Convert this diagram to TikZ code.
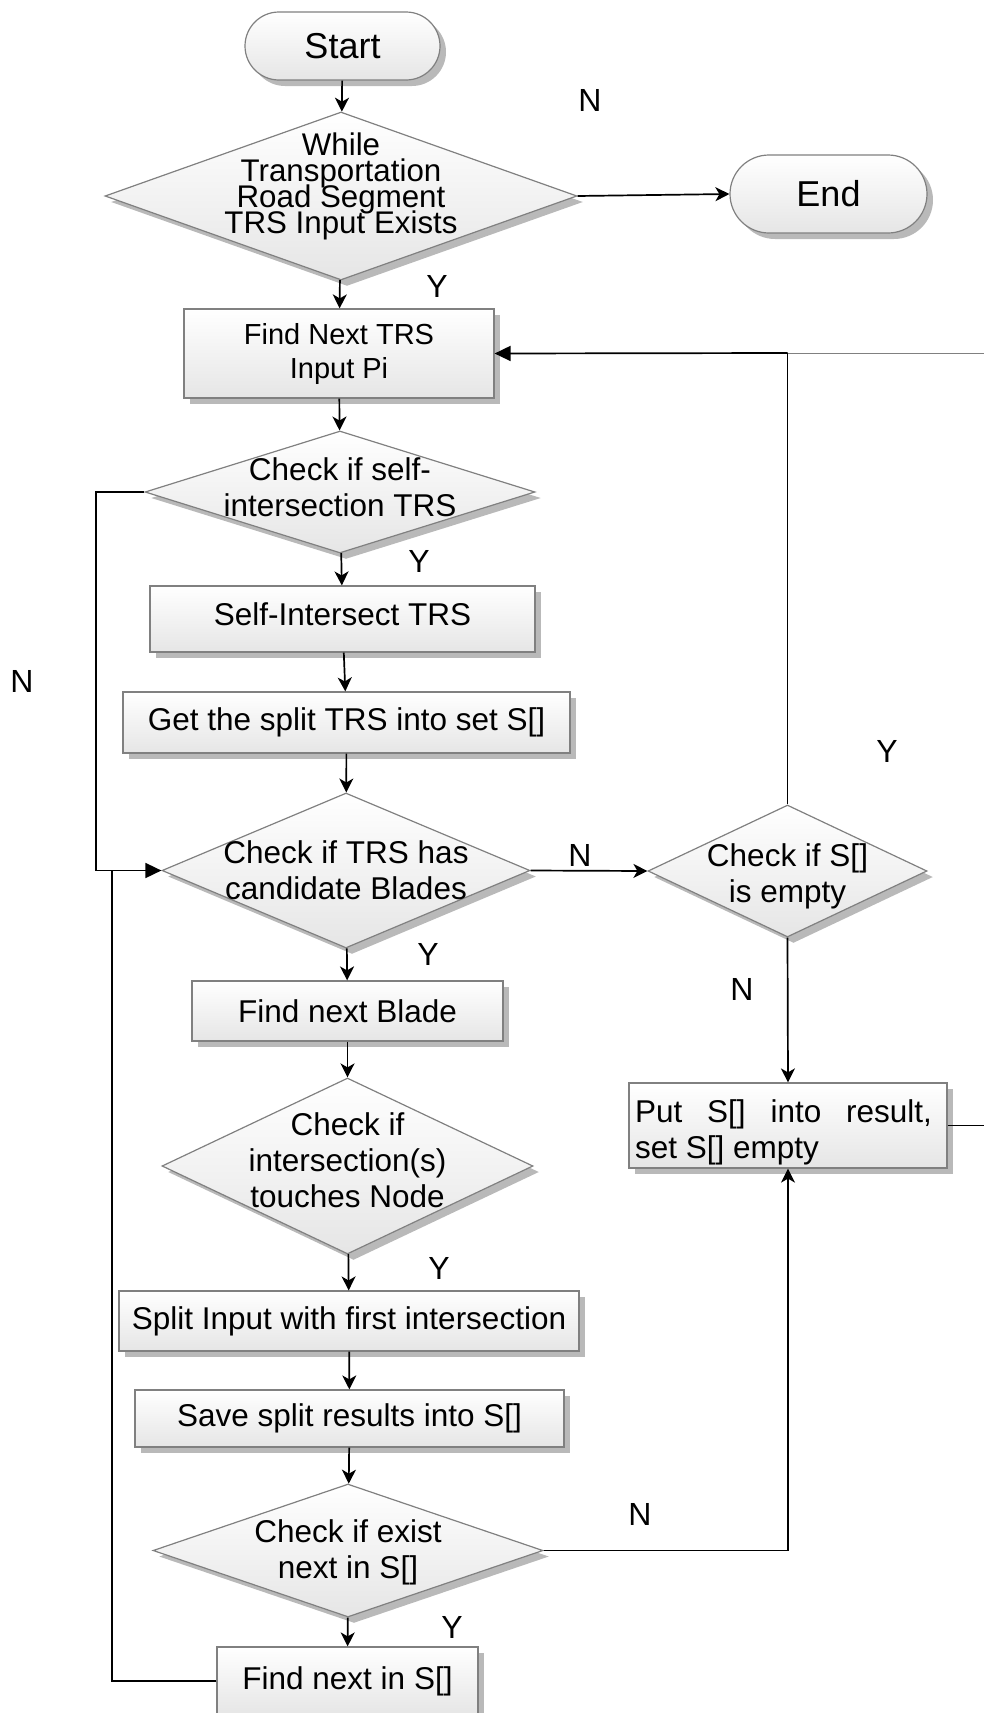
\documentclass[tikz,border=0pt]{standalone}
\usepackage{fontspec}
\setmainfont{Liberation Sans}
\usetikzlibrary{shapes.geometric,shapes.misc,arrows.meta,shadows}

\tikzset{
  box/.style={draw=gray, line width=1.2pt, top color=white, bottom color=gray!20,
    drop shadow={shadow xshift=6pt, shadow yshift=-6pt, fill=gray!55, opacity=1},
    inner sep=0pt, align=center, font=\fontsize{31.5}{36}\selectfont},
  terminal/.style={box, rounded rectangle, font=\fontsize{36}{36}\selectfont},
  decision/.style={box, diamond, inner sep=0pt},
  dtext/.style={inner sep=0pt, align=center, font=\fontsize{31.5}{36}\selectfont},
  lbl/.style={inner sep=0pt, font=\fontsize{32}{32}\selectfont},
  flow/.style={-{Stealth[length=14pt, width=14pt, inset=4pt]}, line width=1.7pt},
  flowtri/.style={-{Triangle[length=16pt, width=15pt]}, line width=1.7pt},
  link/.style={line width=1.7pt},
  thinlink/.style={line width=1.2pt},
  faint/.style={line width=1pt, gray}
}

\begin{document}
\begin{tikzpicture}[x=1pt, y=-1pt]
  \useasboundingbox (0,0) rectangle (984,1713);
  \clip (0,0) rectangle (984,1713);

  % start and main loop test
  \node[terminal, minimum width=195, minimum height=68] (start) at (342.5,46) {Start};
  \node[decision, minimum width=472, minimum height=168] (while) at (341,196) {};
  \node[dtext, font={\fontsize{31.3}{26}\selectfont\lineskiplimit=-40pt\relax}] (whiletxt) at (341,186) {While\\Transportation\\Road Segment\\TRS Input Exists};
  \node[terminal, minimum width=197, minimum height=78] (end) at (828.5,194) {End};

  % read next input
  \node[box, minimum width=310, minimum height=89, font=\fontsize{29}{34}\selectfont] (findtrs) at (339,353.5) {Find Next TRS\\Input Pi};
  \node[decision, minimum width=390, minimum height=122] (selfchk) at (340,492) {};
  \node[dtext] (selfchktxt) at (340,487) {Check if self-\\intersection TRS};
  \node[box, minimum width=385, minimum height=66] (selfint) at (342.5,619) {};
  \node[dtext] (selfinttxt) at (342.5,614) {Self-Intersect TRS};
  \node[box, minimum width=447, minimum height=61] (getsplit) at (346.5,722.5) {Get the split TRS into set S[]};

  % blade loop
  \node[decision, minimum width=368, minimum height=155] (blades) at (346,870.5) {};
  \node[dtext] (bladestxt) at (346,870) {Check if TRS has\\candidate Blades};
  \node[box, minimum width=311, minimum height=60] (nextblade) at (347.5,1011) {Find next Blade};
  \node[decision, minimum width=371, minimum height=176] (touch) at (347.5,1166) {};
  \node[dtext] (touchtxt) at (347.5,1160) {Check if\\intersection(s)\\touches Node};
  \node[box, minimum width=460, minimum height=60] (splitin) at (349,1321) {Split Input with first intersection};
  \node[box, minimum width=429, minimum height=57] (savesplit) at (349.5,1418.5) {Save split results into S[]};
  \node[decision, minimum width=390, minimum height=133] (existchk) at (348,1550.5) {};
  \node[dtext] (existchktxt) at (348,1552) {Check if exist\\next in S[]};
  \node[box, minimum width=261, minimum height=68] (nextS) at (347.5,1681) {Find next in S[]};

  % result side
  \node[decision, minimum width=279, minimum height=132] (empty) at (787.5,871) {};
  \node[dtext] (emptytxt) at (787.5,876) {Check if S[]\\is empty};
  \node[box, minimum width=318, minimum height=85] (putres) at (788,1125.5) {};
  \node[dtext, text width=297, align=justify] (putrestxt) at (783.5,1132) {Put S[] into result,\linebreak set S[] empty};

  % branch labels
  \node[lbl] (nwhile) at (590,100) {N};
  \node[lbl] (ywhile) at (437,286) {Y};
  \node[lbl] (yself) at (419,561) {Y};
  \node[lbl] (nself) at (22,681) {N};
  \node[lbl] (nblades) at (580,855) {N};
  \node[lbl] (yempty) at (887,751) {Y};
  \node[lbl] (yblades) at (428,954) {Y};
  \node[lbl] (nempty) at (742,989) {N};
  \node[lbl] (ytouch) at (439,1268) {Y};
  \node[lbl] (nexist) at (640,1514) {N};
  \node[lbl] (yexist) at (452,1627) {Y};

  % bend points
  \coordinate (jN) at (96,870.5);
  \coordinate (jS) at (112,870.5);
  \coordinate (jY) at (787.5,353);
  \coordinate (topR) at (984,353);
  \coordinate (putR) at (984,1125.5);

  % connectors
  \draw[flow] (start) -- (while);
  \draw[flow] (while.east) -- (end.west);
  \draw[flow] (while) -- (findtrs);
  \draw[flow] (findtrs) -- (selfchk);
  \draw[flow] (selfchk) -- (selfint);
  \draw[flow] (selfint) -- (getsplit);
  \draw[flow] (getsplit) -- (blades);
  \draw[link] (selfchk.west) -| (jN);
  \draw[link] (nextS.west) -| (jS);
  \draw[flowtri] (jN) -- (blades.west);
  \draw[flow] (blades.east) -- (empty.west);
  \draw[thinlink] (empty.north) -- (jY);
  \draw[faint] (topR) -- (jY);
  \draw[flowtri] (jY) -- (findtrs.east);
  \draw[flow] (empty.south) -- (putres.north);
  \draw[link] (putres.east) -- (putR);
  \draw[flow] (blades) -- (nextblade);
  \draw[flow] (nextblade) -- (touch);
  \draw[flow] (touch) -- (splitin);
  \draw[flow] (splitin) -- (savesplit);
  \draw[flow] (savesplit) -- (existchk);
  \draw[flow] (existchk) -- (nextS);
  \draw[flow] (existchk.east) -| (putres.south);
\end{tikzpicture}
\end{document}
